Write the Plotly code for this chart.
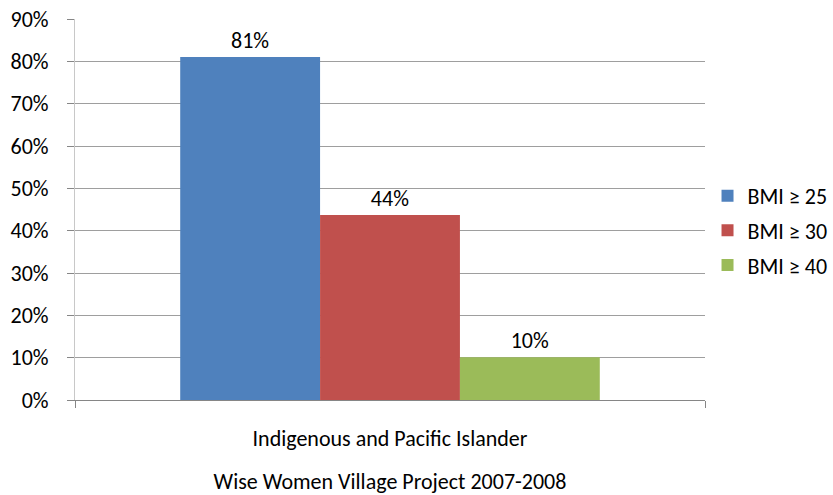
import plotly.graph_objects as go

categories = ["Indigenous and Pacific Islander"]
series_names = ["BMI ≥ 25", "BMI ≥ 30", "BMI ≥ 40"]
series_values = [0.81, 0.437, 0.101]
series_labels = ["81%", "44%", "10%"]
series_colors = ["#4F81BD", "#C0504D", "#9BBB59"]
y_ticks = [0, 0.1, 0.2, 0.3, 0.4, 0.5, 0.6, 0.7, 0.8, 0.9]
y_ticklabels = ["0%", "10%", "20%", "30%", "40%", "50%", "60%", "70%", "80%", "90%"]
x_title = "Wise Women Village Project 2007-2008"

FONT = "Carlito, Calibri, Lato, sans-serif"
FS = 22

fig = go.Figure()
for name, val, lab, col in zip(series_names, series_values, series_labels, series_colors):
    fig.add_trace(go.Bar(
        x=categories, y=[val], name=name, marker=dict(color=col, line=dict(width=0)),
        text=[lab], textposition="outside", cliponaxis=False,
        textfont=dict(family=FONT, size=FS, color="#000000"),
        legendgroup=name,
    ))

fig.update_layout(
    width=833, height=495,
    margin=dict(l=75, r=128, t=19, b=95, autoexpand=False),
    paper_bgcolor="white", plot_bgcolor="white",
    barmode="group", bargap=0.334, bargroupgap=0,
    font=dict(family=FONT, size=FS, color="#000000"),
    showlegend=True,
    legend=dict(x=1.004, xanchor="left", y=0.445, yanchor="middle",
                font=dict(family=FONT, size=FS), tracegroupgap=3,
                itemwidth=30,
                bgcolor="rgba(0,0,0,0)"),
    xaxis=dict(
        type="category", showline=True, linecolor="#868686", linewidth=1,
        ticks="outside", tickson="boundaries", ticklen=7, tickcolor="#868686",
        showgrid=False, ticklabelstandoff=19,
        title=dict(text=x_title, standoff=23, font=dict(family=FONT, size=FS)),
    ),
    yaxis=dict(
        range=[0, 0.9], tickvals=y_ticks, ticktext=y_ticklabels,
        showgrid=True, gridcolor="#9E9E9E", gridwidth=1,
        showline=True, linecolor="#C8C8C8", linewidth=1,
        ticks="outside", ticklen=7, tickcolor="#868686",
        ticklabelstandoff=14, zeroline=False,
    ),
)

fig.write_html("out.html")
